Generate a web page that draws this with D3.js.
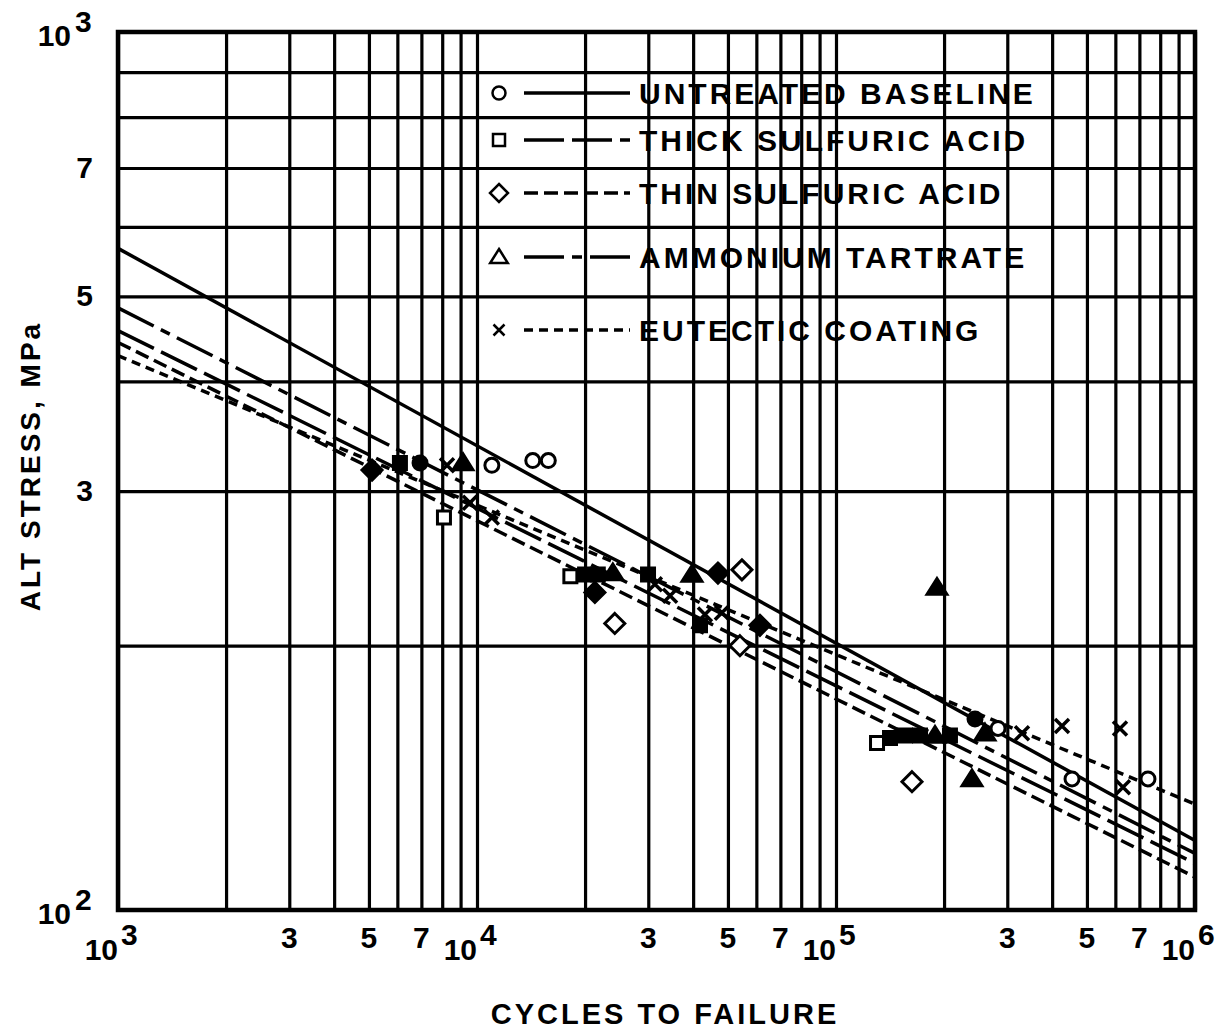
<!DOCTYPE html>
<html lang="en">
<head>
<meta charset="UTF-8">
<title>Alt stress vs cycles to failure</title>
<script src="https://d3js.org/d3.v7.min.js"></script>
<style>
  body { margin: 0; background: #fff; }
  svg { background: #fff; }
  .grid .tick line { stroke: #000; stroke-width: 3.2; }
  .grid .domain { display: none; }
  .lbl { font-family: "Liberation Sans", Arial, sans-serif; font-weight: bold; fill: #000; }
  .fit { fill: none; stroke: #000; stroke-width: 3.5; }
</style>
</head>
<body>
<svg width="1224" height="1030"></svg>
<script>
// axis ticks
const xGrid = [1e3,2e3,3e3,4e3,5e3,6e3,7e3,8e3,9e3,1e4,2e4,3e4,4e4,5e4,6e4,7e4,8e4,9e4,
               1e5,2e5,3e5,4e5,5e5,6e5,7e5,8e5,9e5,1e6];
const yGrid = [100,200,300,400,500,600,700,800,900,1000];
const xMajor = [1e3,1e4,1e5,1e6];            // drawn as 10^n
const xMinor = [3e3,5e3,7e3,3e4,5e4,7e4,3e5,5e5,7e5];
const xMinorText = ["3","5","7","3","5","7","3","5","7"];
const yMajor = [1000,100];
const yMinor = [700,500,300];
const yMinorText = ["7","5","3"];

// series names
const seriesNames = ["UNTREATED BASELINE","THICK SULFURIC ACID","THIN SULFURIC ACID",
                     "AMMONIUM TARTRATE","EUTECTIC COATING"];

// test points [cycles, MPa]
const untreatedOpen   = [[11000,321],[14300,325],[15800,325],[282700,161],[454400,141],[739600,141]];
const untreatedFilled = [[6940,323],[243900,165]];
const thickOpen   = [[8090,280],[18200,240],[130100,155]];
const thickFilled = [[6100,323],[20000,241],[21700,241],[29950,241],[41800,211],
                     [141400,157],[155700,158],[171400,158],[207700,158]];
const thinOpen   = [[54700,244],[24200,212],[162800,140],[54000,200]];
const thinFilled = [[5100,317],[46900,242],[21300,230],[61400,211]];
const tartrateFilled = [[9140,323],[191100,233],[239200,141],[23900,242],[39700,241],
                        [188700,158],[260000,159]];
const eutecticPts = [[8250,321],[11000,280],[329700,159],[426100,162],[618100,161],
                     [630000,138],[31300,235],[34500,228],[43150,217],[48100,218],[9560,291]];

// fitted S-N lines, end values [cycles, MPa]
const untreatedFit = [[1e3,567],[1e6,120]];
const thickFit     = [[1e3,457],[1e6,113]];
const thinFit      = [[1e3,443],[1e6,109]];
const tartrateFit  = [[1e3,485],[1e6,116]];
const eutecticFit  = [[1e3,428],[1e6,132]];

const svg = d3.select("svg");
const L = 118, R = 1195, T = 32, B = 910;

const x = d3.scaleLog().domain([1e3,1e6]).range([L,R]);
const y = d3.scaleLog().domain([100,1000]).range([B,T]);

// grid
svg.append("g").attr("class","grid")
  .attr("transform",`translate(0,${B})`)
  .call(d3.axisBottom(x).tickValues(xGrid).tickSize(-(B-T)).tickFormat(""));
svg.append("g").attr("class","grid")
  .attr("transform",`translate(${L},0)`)
  .call(d3.axisLeft(y).tickValues(yGrid).tickSize(-(R-L)).tickFormat(""));
svg.append("rect")
  .attr("x",L).attr("y",T).attr("width",R-L).attr("height",B-T)
  .attr("fill","none").attr("stroke","#000").attr("stroke-width",4.5);

// tick labels
xMajor.forEach(v => {
  const e = Math.round(Math.log10(v));
  svg.append("text").attr("class","lbl").attr("x",x(v)).attr("y",960)
    .attr("text-anchor","end").attr("font-size",30).text("10");
  svg.append("text").attr("class","lbl").attr("x",x(v)+3).attr("y",945)
    .attr("font-size",30).text(e);
});
xMinor.forEach((v,i) => {
  svg.append("text").attr("class","lbl").attr("x",x(v)).attr("y",948)
    .attr("text-anchor","middle").attr("font-size",30).text(xMinorText[i]);
});
yMajor.forEach(v => {
  const e = Math.round(Math.log10(v));
  svg.append("text").attr("class","lbl").attr("x",71).attr("y",y(v)+14)
    .attr("text-anchor","end").attr("font-size",30).text("10");
  svg.append("text").attr("class","lbl").attr("x",75).attr("y",y(v))
    .attr("font-size",30).text(e);
});
yMinor.forEach((v,i) => {
  svg.append("text").attr("class","lbl").attr("x",93).attr("y",y(v)+10)
    .attr("text-anchor","end").attr("font-size",30).text(yMinorText[i]);
});

// axis titles
svg.append("text").attr("class","lbl")
  .attr("x",665).attr("y",1024).attr("text-anchor","middle")
  .attr("font-size",29).attr("letter-spacing",3).text("CYCLES TO FAILURE");
svg.append("text").attr("class","lbl")
  .attr("transform","translate(40,466) rotate(-90)")
  .attr("text-anchor","middle").attr("font-size",28).attr("letter-spacing",3)
  .text("ALT STRESS, MPa");

// line styles and markers
const dashes = ["none","40,8","14,6","40,8,10,8","9,6"];
const markers = {
  circle:   s => `M${s},0A${s},${s} 0 1,1 ${-s},0A${s},${s} 0 1,1 ${s},0Z`,
  square:   s => `M${-s},${-s}H${s}V${s}H${-s}Z`,
  diamond:  s => `M0,${-s}L${s},0L0,${s}L${-s},0Z`,
  triangle: s => `M0,${-s}L${s*1.1},${s*0.75}L${-s*1.1},${s*0.75}Z`,
  cross:    s => `M${-s},${-s}L${s},${s}M${s},${-s}L${-s},${s}`
};
const shapes = ["circle","square","diamond","triangle","cross"];
const sizes = [7,6.5,10,9,7];

const fits = [untreatedFit,thickFit,thinFit,tartrateFit,eutecticFit];
const line = d3.line().x(d => x(d[0])).y(d => y(d[1]));
fits.forEach((f,i) => {
  svg.append("path").attr("class","fit").attr("d",line(f))
    .attr("stroke-dasharray",dashes[i]);
});

function drawPoints(pts, k, filled) {
  svg.append("g").selectAll("path").data(pts).join("path")
    .attr("transform",d => `translate(${x(d[0])},${y(d[1])})`)
    .attr("d",markers[shapes[k]](sizes[k]))
    .attr("fill",filled && shapes[k] !== "cross" ? "#000" : "#fff")
    .attr("stroke","#000").attr("stroke-width",shapes[k] === "cross" ? 3.5 : 3);
}
drawPoints(untreatedOpen,0,false);
drawPoints(untreatedFilled,0,true);
drawPoints(thickOpen,1,false);
drawPoints(thickFilled,1,true);
drawPoints(thinOpen,2,false);
drawPoints(thinFilled,2,true);
drawPoints(tartrateFilled,3,true);
drawPoints(eutecticPts,4,false);

// legend
const legendRows = [93,140,193,257,330];
seriesNames.forEach((name,i) => {
  const ry = legendRows[i];
  const sz = [6.5,6,9,8,5.5][i];
  svg.append("path").attr("transform",`translate(499,${ry})`)
    .attr("d",markers[shapes[i]](sz))
    .attr("fill","#fff").attr("stroke","#000").attr("stroke-width",2.5);
  svg.append("line").attr("x1",524).attr("x2",630).attr("y1",ry).attr("y2",ry)
    .attr("stroke","#000").attr("stroke-width",3.5).attr("stroke-dasharray",dashes[i]);
  svg.append("text").attr("class","lbl").attr("x",639).attr("y",ry+11)
    .attr("font-size",30).attr("letter-spacing",3).text(name);
});
</script>
</body>
</html>
